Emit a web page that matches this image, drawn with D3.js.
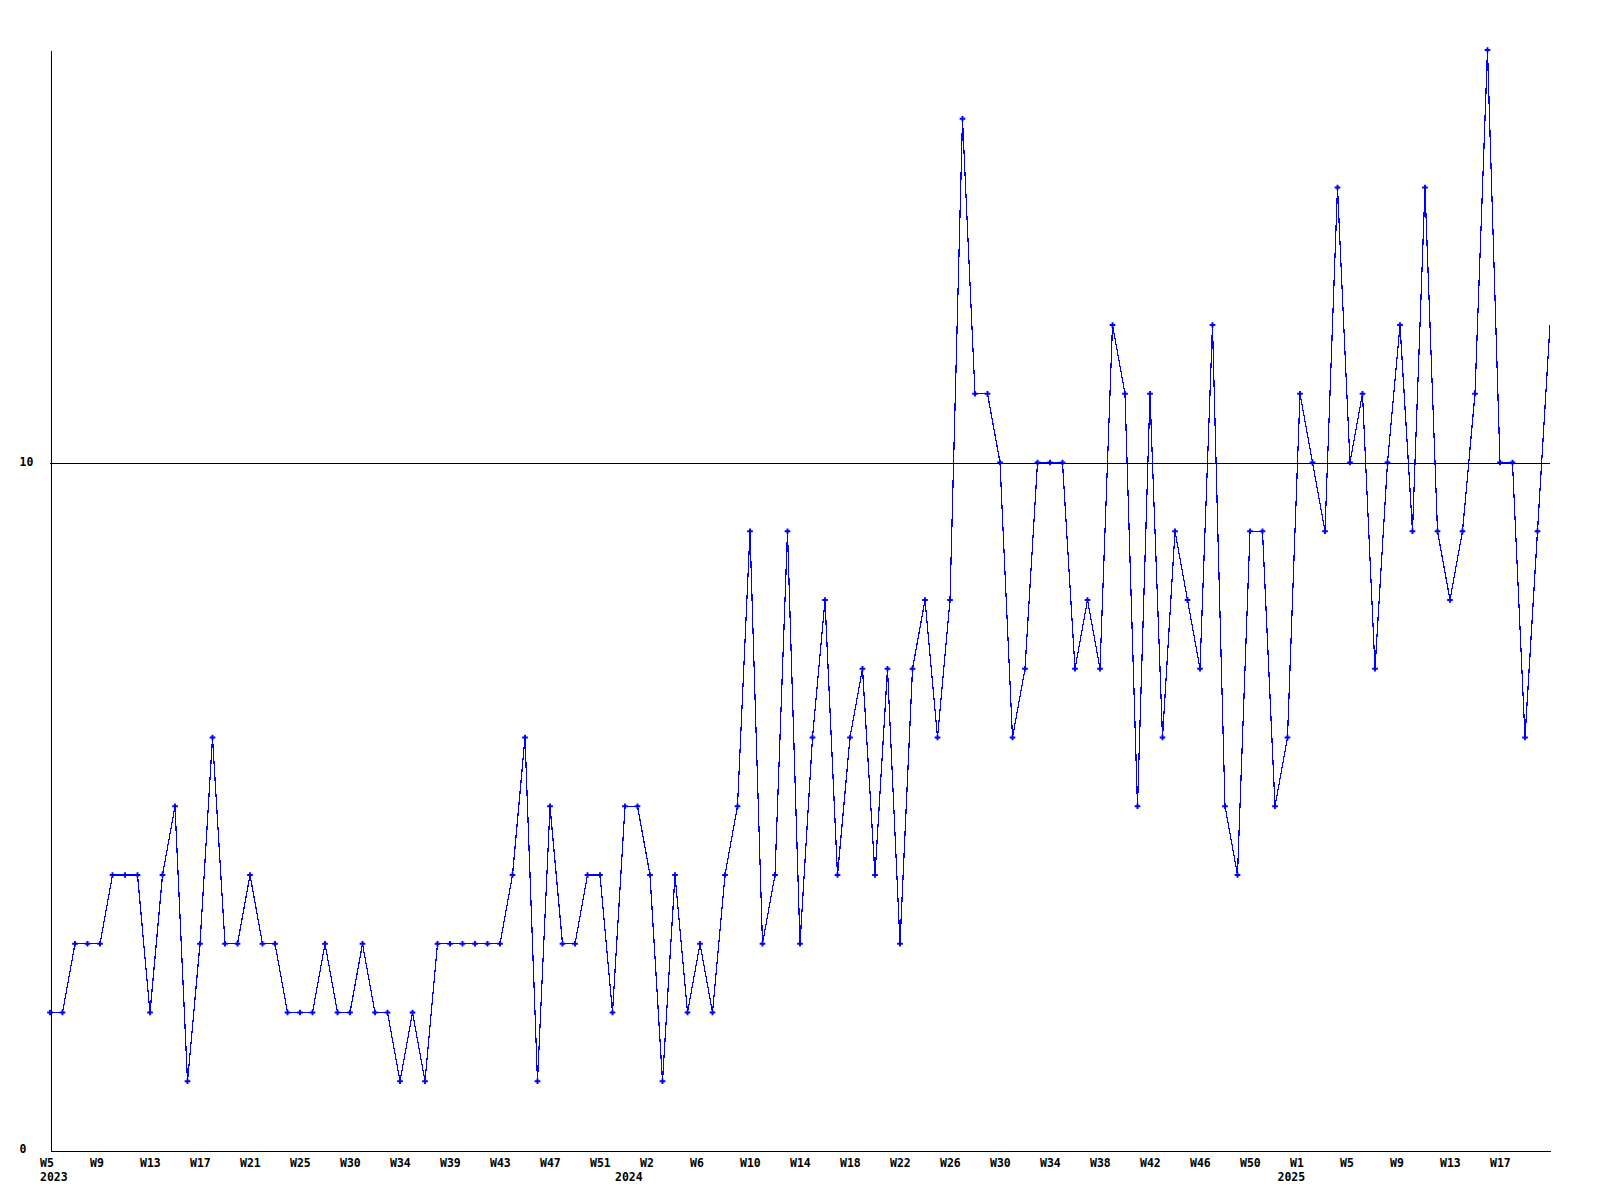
<!DOCTYPE html>
<html>
<head>
<meta charset="utf-8">
<script src="https://cdn.jsdelivr.net/npm/d3@7"></script>
<style>
  html, body { margin: 0; padding: 0; background: #ffffff; }
  svg { display: block; }
  .lbl text { font-family: "DejaVu Sans Mono", monospace; font-weight: bold; font-size: 11.5px; fill: #000; }
</style>
</head>
<body>
<svg id="chart" width="1600" height="1200"></svg>
<script>
// ---- data ----
const values = [
  2, 2, 3, 3, 3, 4, 4, 4, 2, 4,
  5, 1, 3, 6, 3, 3, 4, 3, 3, 2,
  2, 2, 3, 2, 2, 3, 2, 2, 1, 2,
  1, 3, 3, 3, 3, 3, 3, 4, 6, 1,
  5, 3, 3, 4, 4, 2, 5, 5, 4, 1,
  4, 2, 3, 2, 4, 5, 9, 3, 4, 9,
  3, 6, 8, 4, 6, 7, 4, 7, 3, 7,
  8, 6, 8, 15, 11, 11, 10, 6, 7, 10,
  10, 10, 7, 8, 7, 12, 11, 5, 11, 6,
  9, 8, 7, 12, 5, 4, 9, 9, 5, 6,
  11, 10, 9, 14, 10, 11, 7, 10, 12, 9,
  14, 9, 8, 9, 11, 16, 10, 10, 6, 9,
  12
];
const weekLabels = [
  "W5", "W9", "W13", "W17", "W21", "W25", "W30", "W34", "W39", "W43", "W47", "W51",
  "W2", "W6", "W10", "W14", "W18", "W22", "W26", "W30", "W34", "W38", "W42", "W46", "W50",
  "W1", "W5", "W9", "W13", "W17"
];
const weekLabelStep = 4;
const yearLabels = ["2023", "2024", "2025"];
const yearIndices = [0, 46, 99];
const yTickValues = [0, 10];
const referenceValue = 10;
const yMax = 16;

// ---- layout ----
const padL = 50, padR = 1550, padT = 50, padB = 1150;
const svg = d3.select("#chart");

const x = d3.scaleLinear().domain([0, values.length - 1]).range([padL, padR]);
const y = d3.scaleLinear().domain([0, yMax]).range([padB, padT]);

svg.append("defs").append("clipPath").attr("id", "plotclip")
  .append("rect").attr("x", 0).attr("y", 0).attr("width", padR).attr("height", 1200);

const line = d3.line().x((d, i) => x(i)).y(d => y(d));

const g = svg.append("g").attr("clip-path", "url(#plotclip)");
g.append("path")
  .datum(values)
  .attr("d", line)
  .attr("fill", "none")
  .attr("stroke", "#0000ff")
  .attr("stroke-width", 1.2)
  .attr("shape-rendering", "crispEdges");

const sym = d3.symbol().type(d3.symbolCross).size(18);
g.selectAll("path.mk")
  .data(values.slice(0, values.length - 1))
  .join("path")
  .attr("class", "mk")
  .attr("transform", (d, i) => `translate(${x(i)},${y(d)})`)
  .attr("d", sym)
  .attr("fill", "#0000ff");

// reference line
svg.append("line")
  .attr("x1", x(0)).attr("x2", x(values.length - 1))
  .attr("y1", Math.round(y(referenceValue)) + 0.5).attr("y2", Math.round(y(referenceValue)) + 0.5)
  .attr("stroke", "#000").attr("stroke-width", 1)
  .attr("shape-rendering", "crispEdges");

// x axis (week labels)
const tickIdx = weekLabels.map((d, i) => i * weekLabelStep);
const xAxis = d3.axisBottom(x)
  .tickValues(tickIdx)
  .tickFormat((d, i) => weekLabels[i])
  .tickSize(0)
  .tickSizeOuter(0)
  .tickPadding(8);
const gx = svg.append("g").attr("class", "lbl")
  .attr("transform", `translate(0,${padB + 0.5})`)
  .call(xAxis);
gx.select(".domain").attr("stroke", "#000").attr("shape-rendering", "crispEdges");
gx.selectAll("text").attr("text-anchor", "start").attr("dx", -10.5);

// year labels row
const yearAxis = d3.axisBottom(x)
  .tickValues(yearIndices)
  .tickFormat((d, i) => yearLabels[i])
  .tickSize(0)
  .tickSizeOuter(0)
  .tickPadding(22);
const gy2 = svg.append("g").attr("class", "lbl")
  .attr("transform", `translate(0,${padB + 0.5})`)
  .call(yearAxis);
gy2.select(".domain").remove();
gy2.selectAll("text").attr("text-anchor", "start").attr("dx", -10.5);

// y axis
const yAxis = d3.axisLeft(y)
  .tickValues(yTickValues)
  .tickFormat(d3.format("d"))
  .tickSize(0)
  .tickSizeOuter(0)
  .tickPadding(0);
const gy = svg.append("g").attr("class", "lbl")
  .attr("transform", `translate(${padL + 0.5},0)`)
  .call(yAxis);
gy.select(".domain").attr("stroke", "#000").attr("shape-rendering", "crispEdges");
gy.selectAll("text").attr("text-anchor", "start").attr("x", -31).attr("dy", "0.25em");
</script>
</body>
</html>
